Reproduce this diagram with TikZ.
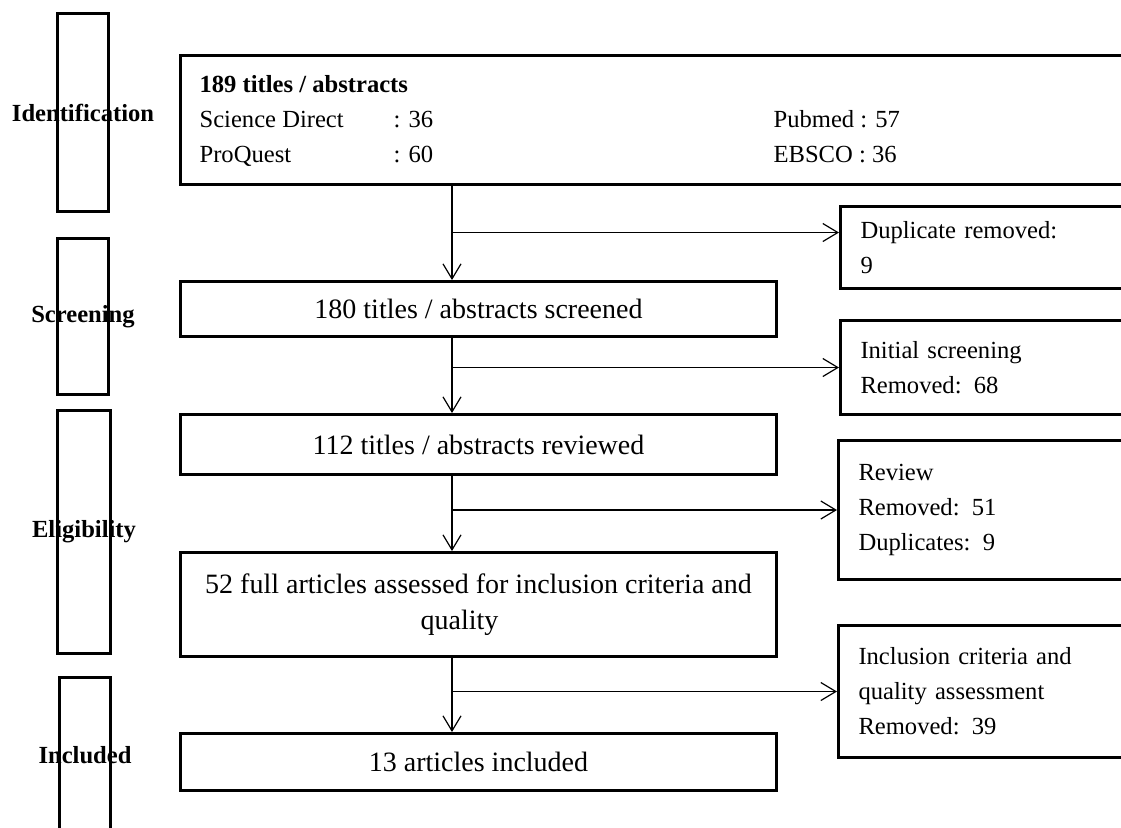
\documentclass[tikz,border=0pt]{standalone}
\usepackage{fontspec}
\setmainfont{Liberation Serif}
\usetikzlibrary{arrows.meta}

\tikzset{every picture/.style={line width=0.6pt}}

\begin{document}
\begin{tikzpicture}[x=0.5pt,y=0.5pt,yscale=-1,xscale=1,
	font=\fontsize{12.3}{17.5}\selectfont,
	stage/.style={draw, line width=1.5pt, anchor=north west, inner sep=0pt},
	stagelabel/.style={font=\fontsize{12.3}{17.5}\selectfont\bfseries},
	mainbox/.style={draw, line width=1.5pt, minimum width=298pt, anchor=north west, align=center, inner sep=0pt, font=\fontsize{14}{18}\selectfont},
	sidebox/.style={draw, line width=1.5pt, minimum width=150pt, anchor=north west, align=left, text width=130pt, inner xsep=9.5pt, inner ysep=0pt},
	entry/.style={anchor=base west, inner sep=0pt},
	flow/.style={-{Straight Barb[length=7.5pt,width=9pt]}}]
	\useasboundingbox (0,0) rectangle (1121,827);
	\clip (0,0) rectangle (1121,827);

	%Shape: Stage boxes
	\node [stage, minimum width=25.5pt, minimum height=99pt, label={[stagelabel]center:Identification}] (ident) at (56,12) {};
	\node [stage, minimum width=25.5pt, minimum height=78pt, label={[stagelabel]center:Screening}] (screen) at (56,237) {};
	\node [stage, minimum width=26.5pt, minimum height=121.5pt, label={[stagelabel]center:Eligibility}] (elig) at (56,409) {};
	\node [stage, minimum width=25.5pt, minimum height=78pt, label={[stagelabel]center:Included}] (incl) at (58,676) {};

	%Shape: Main boxes
	\node [mainbox, minimum width=480pt, minimum height=64.5pt] (src) at (179,54) {};
	\node [mainbox, minimum height=27.5pt] (scr) at (179,280) {180 titles / abstracts screened};
	\node [mainbox, minimum height=30pt] (rev) at (179,413) {112 titles / abstracts reviewed};
	\node [mainbox, minimum height=52pt] (full) at (179,551) {52 full articles assessed for inclusion criteria and\\quality\hspace*{19pt}};
	\node [mainbox, minimum height=28.5pt] (fin) at (179,732) {13 articles included};

	% Text Node
	\node [entry, font=\fontsize{12.3}{17.5}\selectfont\bfseries] (total) at (199,92) {189 titles / abstracts};
	\node [entry] (sd) at (199,127) {Science Direct};
	\node [entry] (sdn) at (393,127) {: 36};
	\node [entry] (pq) at (199,162) {ProQuest};
	\node [entry] (pqn) at (393,162) {: 60};
	\node [entry] (pm) at (773,127) {Pubmed : 57};
	\node [entry] (eb) at (773,162) {EBSCO : 36};

	%Shape: Side boxes
	\node [sidebox, minimum height=41pt] (dup) at (839,205) {Duplicate removed:\\9};
	\node [sidebox, minimum height=47pt] (init) at (839,319) {Initial screening\\Removed: 68};
	\node [sidebox, minimum height=69.5pt] (revd) at (837,439) {Review\\Removed: 51\\Duplicates: 9};
	\node [sidebox, minimum height=66pt] (qual) at (837,624) {Inclusion criteria and\\quality assessment\\Removed: 39};

	%Straight Lines
	\coordinate (spine) at (452,0);
	\coordinate (dupin) at ([yshift=-7.5pt]dup.west);
	\draw [flow] (spine |- src.south) -- (spine |- scr.north);
	\draw [flow] (spine |- scr.south) -- (spine |- rev.north);
	\draw [flow] (spine |- rev.south) -- (spine |- full.north);
	\draw [flow] (spine |- full.south) -- (spine |- fin.north);
	\draw [flow] (spine |- dupin) -- (dupin);
	\draw [flow] (spine |- init.west) -- (init.west);
	\draw [flow] (spine |- revd.west) -- (revd.west);
	\draw [flow] (spine |- qual.west) -- (qual.west);

\end{tikzpicture}
\end{document}
